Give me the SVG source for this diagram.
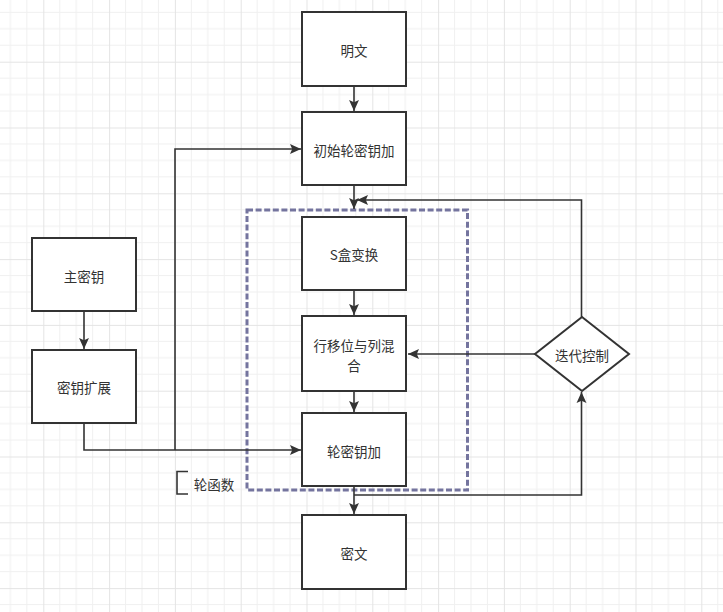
<svg xmlns="http://www.w3.org/2000/svg" width="723" height="612" viewBox="0 0 723 612">
<defs>
<pattern id="grid" patternUnits="userSpaceOnUse" x="43.3" y="61.7" width="65.8" height="65.8">
<path d="M16.45 0V65.8M32.9 0V65.8M49.35 0V65.8M0 16.45H65.8M0 32.9H65.8M0 49.35H65.8" stroke="#f0f0f0" stroke-width="1" fill="none"/>
<path d="M0.5 0V65.8M0 0.5H65.8" stroke="#e4e4e4" stroke-width="1" fill="none"/>
</pattern>
<marker id="arr" viewBox="0 0 10 10" refX="10" refY="5" markerWidth="11" markerHeight="11" markerUnits="userSpaceOnUse" orient="auto">
<path d="M0 0.5L10 5L0 9.5L2 5Z" fill="#333"/>
</marker>
</defs>
<style>
.box{fill:#fff;stroke:#333;stroke-width:2}
.t{font-family:"Noto Sans CJK SC","Liberation Sans",sans-serif;font-size:13.5px;fill:#333;text-anchor:middle;dominant-baseline:central}
.c{fill:none;stroke:#333;stroke-width:1.6}
.ca{fill:none;stroke:#333;stroke-width:1.6;marker-end:url(#arr)}
</style>
<rect width="723" height="612" fill="#fff"/>
<rect width="723" height="612" fill="url(#grid)"/>

<g id="round-function">
<rect x="247" y="210" width="220.5" height="280" fill="none" stroke="#74749e" stroke-width="3" stroke-dasharray="6 2.6"/>
</g>

<g id="connectors">
<path class="ca" d="M354 86V111"/>
<path class="ca" d="M354 185V209"/>
<path class="ca" d="M354 290V315"/>
<path class="ca" d="M354 391V412"/>
<path class="ca" d="M354 486V514"/>
<path class="ca" d="M84 311V349"/>
<path class="ca" d="M84 423V450H301"/>
<path class="ca" d="M175 450V149H301"/>
<path class="ca" d="M581.5 317V200H357"/>
<path class="ca" d="M535 354H408"/>
<path class="ca" d="M354 495H581.5V392"/>
</g>

<g id="plaintext"><rect class="box" x="302" y="12" width="104" height="74"/><text class="t" x="354" y="50">明文</text></g>
<g id="init-add"><rect class="box" x="302" y="112" width="104" height="73"/><text class="t" x="354" y="150">初始轮密钥加</text></g>
<g id="sbox"><rect class="box" x="302" y="217" width="104" height="73"/><text class="t" x="354" y="254">S盒变换</text></g>
<g id="shift-mix"><rect class="box" x="302" y="316" width="104" height="75"/><text class="t" x="354" y="344.5">行移位与列混</text><text class="t" x="354" y="364.5">合</text></g>
<g id="round-add"><rect class="box" x="302" y="413" width="104" height="73"/><text class="t" x="354" y="451">轮密钥加</text></g>
<g id="ciphertext"><rect class="box" x="302" y="515" width="104" height="74"/><text class="t" x="354" y="553">密文</text></g>
<g id="master-key"><rect class="box" x="32" y="238" width="104" height="73"/><text class="t" x="84" y="276">主密钥</text></g>
<g id="key-expand"><rect class="box" x="32" y="350" width="104" height="73"/><text class="t" x="84" y="387">密钥扩展</text></g>
<g id="iter-control"><path class="box" d="M582 317L629 354L582 391L535 354Z"/><text class="t" x="582" y="355">迭代控制</text></g>
<g id="label-round-function"><path d="M188 471.5H177V494H188" fill="none" stroke="#333" stroke-width="1.6"/><text class="t" x="214" y="484">轮函数</text></g>
</svg>
